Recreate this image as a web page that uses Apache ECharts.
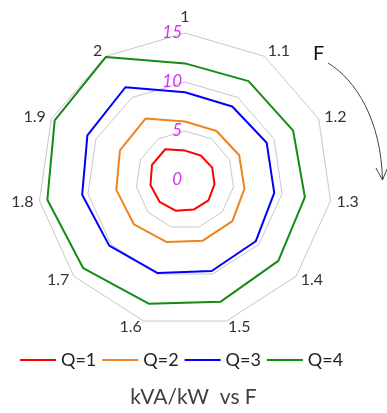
<!DOCTYPE html>
<html><head><meta charset="utf-8">
<script src="https://cdn.jsdelivr.net/npm/echarts@6/dist/echarts.min.js"></script>
<style>html,body{margin:0;padding:0;background:#fff}#c{width:387px;height:413px}</style>
</head><body><div id="c"></div>
<script>
// Data
const categories = ['1','1.1','1.2','1.3','1.4','1.5','1.6','1.7','1.8','1.9','2'];
const seriesNames = ['Q=1','Q=2','Q=3','Q=4'];
const q1 = [3.0, 2.97, 3.05, 3.04, 3.17, 3.15, 3.28, 3.42, 3.56, 3.70, 3.73];
const q2 = [5.97, 5.95, 6.08, 6.13, 6.40, 6.45, 6.60, 6.90, 7.08, 7.30, 7.45];
const q3 = [8.95, 8.92, 9.16, 9.20, 9.55, 9.68, 9.90, 10.23, 10.60, 10.95, 11.25];
const q4 = [11.90, 11.99, 12.13, 12.36, 12.60, 12.94, 13.16, 13.74, 14.19, 14.62, 14.92];
const radialTicks = [0, 5, 10, 15];
const titleText = 'kVA/kW  vs F';
const arrowText = 'F';

const colors = ['#FF0000', '#EE8420', '#0000FF', '#148C14'];
const allSeries = [q1, q2, q3, q4];

// ECharts radar goes counter-clockwise; reorder so the reference's clockwise order is kept
const order = [0].concat(categories.map((_, i) => i).slice(1).reverse());
const axisMax = radialTicks[radialTicks.length - 1];
const indicator = order.map((idx, k) => {
  const ind = { name: categories[idx], min: 0, max: axisMax };
  if (k === 0) {
    ind.axisLabel = {
      show: true, margin: 3, color: '#D631F2', fontSize: 17, fontStyle: 'italic',
      fontFamily: 'Lato'
    };
  }
  return ind;
});

const chart = echarts.init(document.getElementById('c'));
chart.setOption({
  animation: false,
  backgroundColor: '#fff',
  title: {
    text: titleText, left: 'center', top: 387, padding: 0,
    textStyle: { fontSize: 21, fontWeight: 'normal', color: '#404040', fontFamily: 'Lato' }
  },
  legend: {
    left: 20, top: 351, padding: 0, icon: 'rect', itemWidth: 36, itemHeight: 2, itemGap: 6,
    textStyle: { fontSize: 18, color: '#222', fontFamily: 'Lato' },
    data: seriesNames
  },
  radar: {
    center: [185, 180],
    radius: 147,
    startAngle: 90,
    splitNumber: radialTicks.length - 1,
    shape: 'polygon',
    nameGap: 6,
    axisName: { color: '#333', fontSize: 16, fontFamily: 'Lato' },
    axisLine: { show: false },
    axisTick: { show: false },
    axisLabel: { show: false },
    splitArea: { show: false },
    splitLine: { lineStyle: { color: '#C8C8C8', width: 1 } },
    indicator: indicator
  },
  graphic: [
    { type: 'text', left: 313, top: 44, style: { text: arrowText, fontSize: 20, fill: '#111', fontFamily: 'Lato' } },
    { type: 'bezierCurve', shape: { x1: 328, y1: 63, cpx1: 356, cpy1: 80, cpx2: 381, cpy2: 120, x2: 382.5, y2: 180 },
      style: { stroke: '#444', lineWidth: 1, fill: 'none' } },
    { type: 'polyline', shape: { points: [[376, 168], [382.5, 180], [387, 169]] },
      style: { stroke: '#444', lineWidth: 1, fill: 'none' } }
  ],
  series: allSeries.map((vals, s) => ({
    type: 'radar',
    symbol: 'none',
    data: [{
      name: seriesNames[s],
      value: order.map(i => vals[i]),
      lineStyle: { color: colors[s], width: 2 },
      itemStyle: { color: colors[s] }
    }]
  }))
});
</script>
</body></html>
